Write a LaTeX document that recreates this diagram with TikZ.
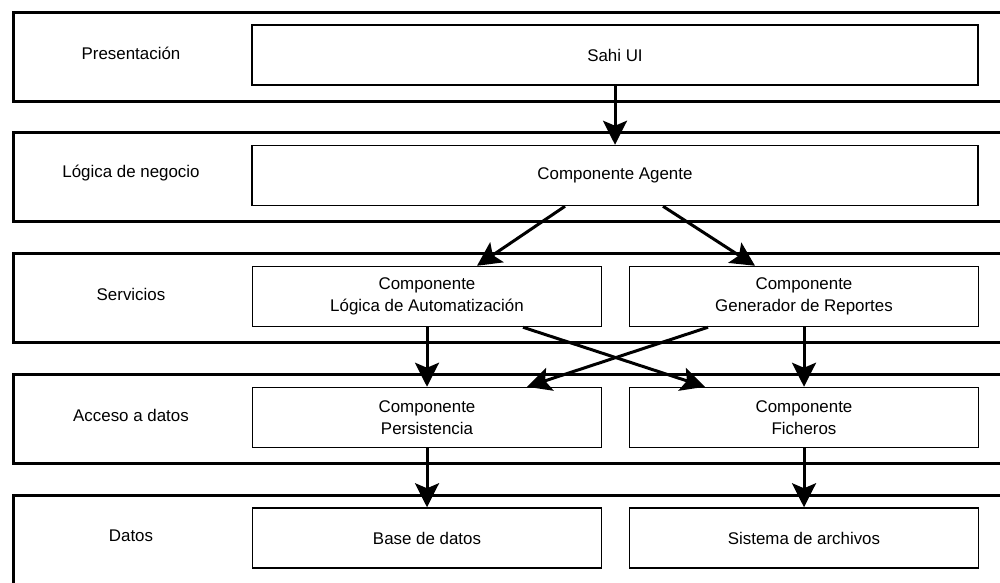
\documentclass[tikz,border=0pt]{standalone}
\usepackage{fontspec}
\setmainfont{Liberation Sans}
\usetikzlibrary{arrows.meta}
\begin{document}
\begin{tikzpicture}[x=1pt,y=-1pt,
  layer/.style={draw, line width=3pt, inner sep=0pt, minimum width=1010pt, minimum height=89pt, anchor=north west},
  comp/.style={draw, line width=1.5pt, inner sep=0pt, align=center, minimum height=60pt,
    font=\fontsize{16.9}{22}\selectfont},
  wide/.style={comp, minimum width=726pt},
  half/.style={comp, minimum width=349pt},
  lbl/.style={inner sep=0pt, font=\fontsize{16.9}{22}\selectfont},
  flow/.style={line width=3pt, -{Stealth[length=24pt,width=24pt,inset=5pt]}}]
\useasboundingbox (0,0) rectangle (1000,582);
\clip (0,0) rectangle (1000,582);
\fill[white] (0,0) rectangle (1000,582);

% layer frames
\node[layer] (l1) at (11.5,10.5) {};
\node[layer] (l2) at (11.5,131) {};
\node[layer] (l3) at (11.5,252) {};
\node[layer] (l4) at (11.5,373) {};
\node[layer] (l5) at (11.5,494) {};

% layer names
\node[lbl] (n1) at (131,53) {Presentación};
\node[lbl] (n2) at (131,173) {Lógica de negocio};
\node[lbl] (n3) at (131,294) {Servicios};
\node[lbl] (n4) at (131,415) {Acceso a datos};
\node[lbl] (n5) at (131,536) {Datos};

% components
\node[wide] (ui) at (615,55) {Sahi UI};
\node[wide] (agente) at (615,175.5) {Componente Agente};
\node[half] (auto) at (427,296.5) {Componente\\Lógica de Automatización};
\node[half] (rep) at (804,296.5) {Componente\\Generador de Reportes};
\node[half] (pers) at (427,417.5) {Componente\\Persistencia};
\node[half] (fich) at (804,417.5) {Componente\\Ficheros};
\node[half] (bd) at (427,538) {Base de datos};
\node[half] (fs) at (804,538) {Sistema de archivos};

% dependencies
\draw[flow] (ui.south) -- (agente.north);
\draw[flow] ([xshift=-50pt]agente.south) -- ([xshift=50pt]auto.north);
\draw[flow] ([xshift=48pt]agente.south) -- ([xshift=-49pt]rep.north);
\draw[flow] (auto.south) -- (pers.north);
\draw[flow] (rep.south) -- (fich.north);
\draw[flow] ([xshift=96pt]auto.south) -- ([xshift=-99pt]fich.north);
\draw[flow] ([xshift=-96pt]rep.south) -- ([xshift=100pt]pers.north);
\draw[flow] (pers.south) -- (bd.north);
\draw[flow] (fich.south) -- (fs.north);
\end{tikzpicture}
\end{document}
